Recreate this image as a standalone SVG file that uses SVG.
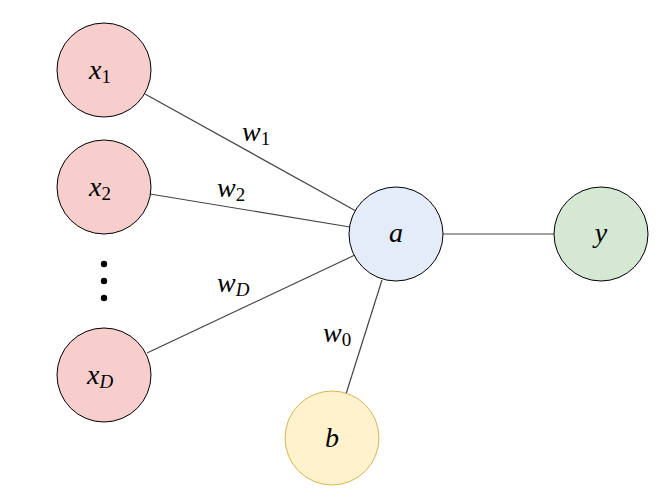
<svg xmlns="http://www.w3.org/2000/svg" width="664" height="498" viewBox="0 0 664 498">
<style>
.n{stroke:#000;stroke-width:1}
.xn{fill:#f8cecc}
.e{stroke:#444;stroke-width:1.2;fill:none}
.t{font-family:"Times New Roman","Liberation Serif","Noto Serif","DejaVu Serif",serif;font-size:28px;fill:#000}
.it{font-style:italic}
.sub{font-size:19px}
</style>
<rect width="664" height="498" fill="#fff"/>
<g id="connectors">
<line class="e" x1="145" y1="94" x2="356" y2="211"/>
<line class="e" x1="150" y1="194" x2="350" y2="227"/>
<line class="e" x1="147" y1="353" x2="355" y2="255"/>
<line class="e" x1="443" y1="234" x2="554" y2="234"/>
<line class="e" x1="346" y1="394" x2="382" y2="280"/>
<text class="t" x="242" y="141"><tspan class="it">w</tspan><tspan class="sub" dy="4">1</tspan></text>
<text class="t" x="217" y="197"><tspan class="it">w</tspan><tspan class="sub" dy="4">2</tspan></text>
<text class="t" x="217" y="292"><tspan class="it">w</tspan><tspan class="sub it" dy="4">D</tspan></text>
<text class="t" x="323" y="342"><tspan class="it">w</tspan><tspan class="sub" dy="4">0</tspan></text>
</g>
<g id="x1"><circle class="n xn" cx="104" cy="70" r="47"/><text class="t" x="89" y="79"><tspan class="it">x</tspan><tspan class="sub" dy="4">1</tspan></text></g>
<g id="x2"><circle class="n xn" cx="104" cy="187" r="47"/><text class="t" x="89" y="196"><tspan class="it">x</tspan><tspan class="sub" dy="4">2</tspan></text></g>
<g id="dots"><circle cx="104" cy="264" r="3.2"/><circle cx="104" cy="281" r="3.2"/><circle cx="104" cy="298" r="3.2"/></g>
<g id="xD"><circle class="n xn" cx="104" cy="375" r="47"/><text class="t" x="87" y="384"><tspan class="it">x</tspan><tspan class="sub it" dy="4">D</tspan></text></g>
<g id="a"><circle class="n" cx="396" cy="234" r="47" fill="#e4ebf9"/><text class="t it" x="396" y="242" text-anchor="middle">a</text></g>
<g id="y"><circle class="n" cx="601" cy="234" r="47" fill="#d5e8d4"/><text class="t it" x="601" y="242" text-anchor="middle">y</text></g>
<g id="b"><circle cx="332" cy="438" r="47" fill="#fff2cc" stroke="#d6b656" stroke-width="1"/><text class="t it" x="332" y="447" text-anchor="middle">b</text></g>
</svg>
